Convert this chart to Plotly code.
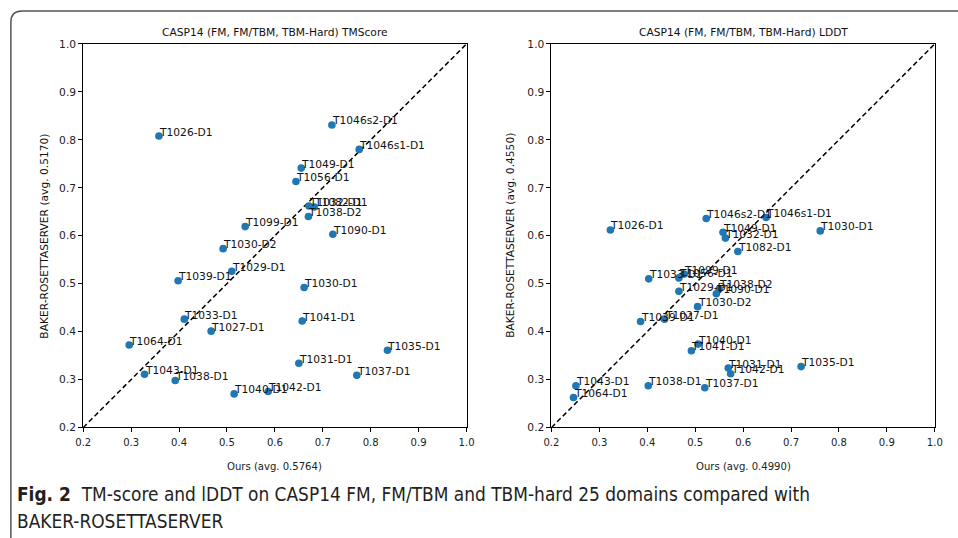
import plotly.graph_objects as go

# ---------------- data ----------------
tm_names = ["T1026-D1", "T1046s2-D1", "T1046s1-D1", "T1049-D1", "T1056-D1",
            "T1032-D1", "T1082-D1", "T1038-D2", "T1090-D1", "T1099-D1",
            "T1030-D2", "T1029-D1", "T1030-D1", "T1039-D1", "T1033-D1",
            "T1027-D1", "T1064-D1", "T1043-D1", "T1038-D1", "T1040-D1",
            "T1042-D1", "T1041-D1", "T1031-D1", "T1037-D1", "T1035-D1"]
tm_ours = [0.358, 0.719, 0.776, 0.655, 0.644,
           0.671, 0.682, 0.670, 0.721, 0.538,
           0.492, 0.510, 0.661, 0.398, 0.411,
           0.467, 0.296, 0.328, 0.392, 0.515,
           0.586, 0.657, 0.650, 0.771, 0.835]
tm_baker = [0.808, 0.831, 0.780, 0.741, 0.713,
            0.662, 0.660, 0.640, 0.603, 0.619,
            0.573, 0.526, 0.492, 0.506, 0.426,
            0.401, 0.372, 0.311, 0.298, 0.270,
            0.275, 0.422, 0.334, 0.309, 0.361]

lddt_names = ["T1026-D1", "T1046s2-D1", "T1046s1-D1", "T1049-D1", "T1032-D1",
              "T1082-D1", "T1030-D1", "T1033-D1", "T1056-D1", "T1099-D1",
              "T1029-D1", "T1038-D2", "T1090-D1", "T1030-D2", "T1039-D1",
              "T1027-D1", "T1040-D1", "T1041-D1", "T1031-D1", "T1042-D1",
              "T1035-D1", "T1043-D1", "T1064-D1", "T1038-D1", "T1037-D1"]
lddt_ours = [0.323, 0.523, 0.648, 0.558, 0.563,
             0.589, 0.761, 0.403, 0.466, 0.477,
             0.466, 0.550, 0.544, 0.505, 0.386,
             0.436, 0.506, 0.492, 0.569, 0.574,
             0.721, 0.251, 0.246, 0.402, 0.520]
lddt_baker = [0.612, 0.636, 0.638, 0.607, 0.595,
              0.567, 0.610, 0.510, 0.512, 0.520,
              0.484, 0.489, 0.479, 0.452, 0.421,
              0.426, 0.374, 0.360, 0.324, 0.312,
              0.327, 0.287, 0.2625, 0.287, 0.283]

axis_range = [0.2, 1.0]
tick_vals = [0.2, 0.3, 0.4, 0.5, 0.6, 0.7, 0.8, 0.9, 1.0]
titles = ["CASP14 (FM, FM/TBM, TBM-Hard) TMScore", "CASP14 (FM, FM/TBM, TBM-Hard) LDDT"]
x_titles = ["Ours (avg. 0.5764)", "Ours (avg. 0.4990)"]
y_titles = ["BAKER-ROSETTASERVER (avg. 0.5170)", "BAKER-ROSETTASERVER (avg. 0.4550)"]
caption_1 = "<b>Fig. 2</b>  TM-score and lDDT on CASP14 FM, FM/TBM and TBM-hard 25 domains compared with"
caption_2 = "BAKER-ROSETTASERVER"

# ---------------- layout helpers ----------------
W, H = 958, 538
# the captured picture is slightly offset/scaled relative to the page; compensate
SX, OX = 0.983, 8.1
SY, OY = 0.977, 5.0
def fx(px):
    return ((px - OX) / SX) / W
def fy(py):
    return 1 - ((py - OY) / SY) / H
K = 1 / SX  # font compensation

MPL = "DejaVu Sans"
NARROW = "DejaVu Sans Condensed, Liberation Sans Narrow, Liberation Sans, sans-serif"
BLUE = "#1f77b4"

fig = go.Figure()

panels = [
    (tm_names, tm_ours, tm_baker, "x", "y"),
    (lddt_names, lddt_ours, lddt_baker, "x2", "y2"),
]
annotations = []
for names, xs, ys, xr, yr in panels:
    fig.add_trace(go.Scatter(x=axis_range, y=axis_range, mode="lines",
                             line=dict(color="black", width=1.5, dash="5px,3px"),
                             xaxis=xr, yaxis=yr, hoverinfo="skip", showlegend=False))
    fig.add_trace(go.Scatter(x=xs, y=ys, mode="markers",
                             marker=dict(color=BLUE, size=7.5 * K),
                             text=names, xaxis=xr, yaxis=yr, showlegend=False))
    for n, xv, yv in zip(names, xs, ys):
        annotations.append(dict(x=xv, y=yv, xref=xr, yref=yr, text=n, showarrow=False,
                                xanchor="left", yanchor="middle", yshift=4, xshift=-1,
                                borderpad=0,
                                font=dict(family=MPL, size=10.5 * K, color="#111")))

dom_y = [fy(427), fy(43)]
dom_x1 = [fx(83.3), fx(466.5)]
dom_x2 = [fx(551.4), fx(934.6)]

axis_common = dict(range=axis_range, tickvals=tick_vals, tickformat=".1f",
                   showgrid=False, zeroline=False, showline=True, mirror=True,
                   linecolor="black", linewidth=1, ticks="outside", ticklen=4,
                   tickcolor="black", tickwidth=1)

xfont = dict(family=NARROW, size=11 * K, color="#222")
yfont = dict(family=MPL, size=10.5 * K, color="#222")

fig.update_layout(
    width=W, height=H,
    margin=dict(l=0, r=0, t=0, b=0),
    paper_bgcolor="white", plot_bgcolor="white",
    xaxis=dict(domain=dom_x1, anchor="y", tickfont=xfont, **axis_common),
    yaxis=dict(domain=dom_y, anchor="x", tickfont=yfont, **axis_common),
    xaxis2=dict(domain=dom_x2, anchor="y2", tickfont=xfont, **axis_common),
    yaxis2=dict(domain=dom_y, anchor="x2", tickfont=yfont, **axis_common),
)

centers_x = [(83.3 + 466.5) / 2, (551.4 + 934.6) / 2]
ytitle_x = [45, 511]
for i in range(2):
    annotations.append(dict(x=fx(centers_x[i]), y=fy(32), xref="paper", yref="paper",
                            text=titles[i], showarrow=False, xanchor="center", yanchor="middle",
                            font=dict(family=MPL, size=10.5 * K, color="#111")))
    annotations.append(dict(x=fx(centers_x[i]), y=fy(466), xref="paper", yref="paper",
                            text=x_titles[i], showarrow=False, xanchor="center", yanchor="middle",
                            font=dict(family=NARROW, size=11 * K, color="#222")))
    annotations.append(dict(x=fx(ytitle_x[i]), y=fy(235), xref="paper", yref="paper",
                            text=y_titles[i], showarrow=False, textangle=-90,
                            xanchor="center", yanchor="middle",
                            font=dict(family=MPL, size=10.5 * K, color="#111")))

annotations.append(dict(x=fx(15), y=fy(494), xref="paper", yref="paper", text=caption_1,
                        showarrow=False, xanchor="left", yanchor="middle",
                        font=dict(family=NARROW, size=18.6 * K, color="#231f20")))
annotations.append(dict(x=fx(15), y=fy(521), xref="paper", yref="paper", text=caption_2,
                        showarrow=False, xanchor="left", yanchor="middle",
                        font=dict(family=NARROW, size=18.6 * K, color="#231f20")))

fig.update_layout(annotations=annotations)

# rounded frame (top and left edges)
frame_path = (f"M {fx(958)},{fy(10)} L {fx(22)},{fy(10)} "
              f"Q {fx(11)},{fy(10)} {fx(11)},{fy(21)} L {fx(11)},{fy(538)}")
fig.add_shape(type="path", path=frame_path, xref="paper", yref="paper",
              line=dict(color="#555", width=1.5))

fig.write_html("out.html", config={"displayModeBar": False},
               post_script="document.body.style.margin='0';document.body.style.overflow='hidden';")
